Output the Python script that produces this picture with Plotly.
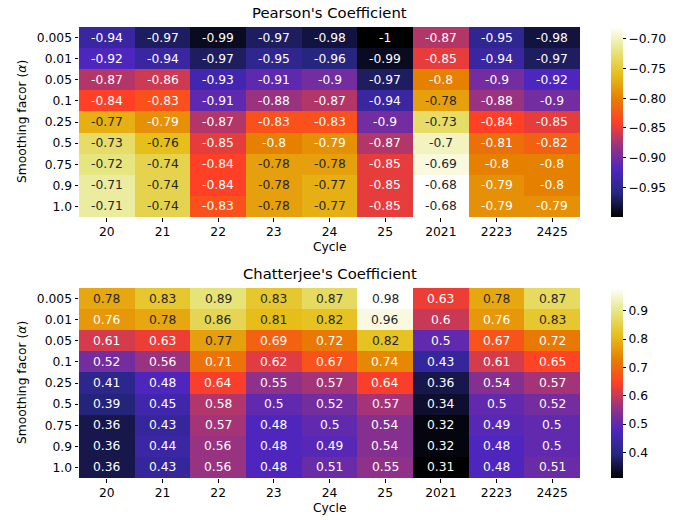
import plotly.graph_objects as go

cycles = ["20", "21", "22", "23", "24", "25", "2021", "2223", "2425"]
alphas = ["0.005", "0.01", "0.05", "0.1", "0.25", "0.5", "0.75", "0.9", "1.0"]

pearson = [
    [-0.94, -0.97, -0.99, -0.97, -0.98, -1.00, -0.87, -0.95, -0.98],
    [-0.92, -0.94, -0.97, -0.95, -0.96, -0.99, -0.85, -0.94, -0.97],
    [-0.87, -0.86, -0.93, -0.91, -0.90, -0.97, -0.80, -0.90, -0.92],
    [-0.84, -0.83, -0.91, -0.88, -0.87, -0.94, -0.78, -0.88, -0.90],
    [-0.77, -0.79, -0.87, -0.83, -0.83, -0.90, -0.73, -0.84, -0.85],
    [-0.73, -0.76, -0.85, -0.80, -0.79, -0.87, -0.70, -0.81, -0.82],
    [-0.72, -0.74, -0.84, -0.78, -0.78, -0.85, -0.69, -0.80, -0.80],
    [-0.71, -0.74, -0.84, -0.78, -0.77, -0.85, -0.68, -0.79, -0.80],
    [-0.71, -0.74, -0.83, -0.78, -0.77, -0.85, -0.68, -0.79, -0.79],
]

chatterjee = [
    [0.78, 0.83, 0.89, 0.83, 0.87, 0.98, 0.63, 0.78, 0.87],
    [0.76, 0.78, 0.86, 0.81, 0.82, 0.96, 0.60, 0.76, 0.83],
    [0.61, 0.63, 0.77, 0.69, 0.72, 0.82, 0.50, 0.67, 0.72],
    [0.52, 0.56, 0.71, 0.62, 0.67, 0.74, 0.43, 0.61, 0.65],
    [0.41, 0.48, 0.64, 0.55, 0.57, 0.64, 0.36, 0.54, 0.57],
    [0.39, 0.45, 0.58, 0.50, 0.52, 0.57, 0.34, 0.50, 0.52],
    [0.36, 0.43, 0.57, 0.48, 0.50, 0.54, 0.32, 0.49, 0.50],
    [0.36, 0.44, 0.56, 0.48, 0.49, 0.54, 0.32, 0.48, 0.50],
    [0.36, 0.43, 0.56, 0.48, 0.51, 0.55, 0.31, 0.48, 0.51],
]

pearson_cbar_ticks = [-0.95, -0.90, -0.85, -0.80, -0.75, -0.70]
chatterjee_cbar_ticks = [0.4, 0.5, 0.6, 0.7, 0.8, 0.9]

# CMRmap anchor colours (RGB in 0..1)
cmr_stops = [
    (0.000, (0.00, 0.00, 0.00)),
    (0.125, (0.15, 0.15, 0.50)),
    (0.250, (0.30, 0.15, 0.75)),
    (0.375, (0.60, 0.20, 0.50)),
    (0.500, (1.00, 0.25, 0.15)),
    (0.625, (0.90, 0.50, 0.00)),
    (0.750, (0.90, 0.75, 0.10)),
    (0.875, (0.90, 0.90, 0.50)),
    (1.000, (1.00, 1.00, 1.00)),
]
colorscale = [
    [p, "rgb(%d,%d,%d)" % tuple(round(c * 255) for c in rgb)] for p, rgb in cmr_stops
]


def cmap(t):
    t = min(max(t, 0.0), 1.0)
    for (p0, c0), (p1, c1) in zip(cmr_stops[:-1], cmr_stops[1:]):
        if p0 <= t <= p1:
            f = (t - p0) / (p1 - p0)
            return tuple(a + (b - a) * f for a, b in zip(c0, c1))
    return cmr_stops[-1][1]


def luminance(rgb):
    lin = [c / 12.92 if c <= 0.03928 else ((c + 0.055) / 1.055) ** 2.4 for c in rgb]
    return 0.2126 * lin[0] + 0.7152 * lin[1] + 0.0722 * lin[2]


FONT = "DejaVu Sans"
TICK = 12.3
TITLE = 14.8

X_DOM = [79 / 685, 580 / 685]
Y_TOP = [1 - 217 / 520, 1 - 27 / 520]
Y_BOT = [1 - 478 / 520, 1 - 288 / 520]
CB_X = 611 / 685

fig = go.Figure()
annotations = []

panels = [
    (pearson, "Pearson's Coefficient", Y_TOP, "x", "y", ".2f", pearson_cbar_ticks),
    (chatterjee, "Chatterjee's Coefficient", Y_BOT, "x2", "y2", ".1f", chatterjee_cbar_ticks),
]

for z, title, ydom, xa, ya, cbfmt, cbticks in panels:
    flat = [v for row in z for v in row]
    zmin, zmax = min(flat), max(flat)
    fig.add_trace(
        go.Heatmap(
            z=z, x=cycles, y=alphas, xaxis=xa, yaxis=ya,
            colorscale=colorscale, zmin=zmin, zmax=zmax, xgap=0, ygap=0,
            colorbar=dict(
                x=CB_X, xanchor="left", y=(ydom[0] + ydom[1]) / 2, yanchor="middle",
                len=ydom[1] - ydom[0], lenmode="fraction", thickness=12,
                outlinewidth=0, xpad=0, ypad=0, ticks="outside", ticklen=3.5,
                tickwidth=0.8, tickcolor="black", tickformat=cbfmt,
                tickmode="array", tickvals=cbticks,
                tickfont=dict(family=FONT, size=TICK, color="black"),
            ),
        )
    )
    # cell labels, placed by category index
    for i, a in enumerate(alphas):
        for j, c in enumerate(cycles):
            v = z[i][j]
            rgb = cmap((v - zmin) / (zmax - zmin))
            col = "rgb(38,38,38)" if luminance(rgb) > 0.408 else "white"
            annotations.append(dict(
                x=j, y=i, xref=xa, yref=ya, text=format(v, ".2g"), showarrow=False,
                font=dict(family=FONT, size=TICK, color=col),
            ))
    xc = (X_DOM[0] + X_DOM[1]) / 2
    yc = (ydom[0] + ydom[1]) / 2
    annotations.append(dict(
        x=xc, y=ydom[1], xref="paper", yref="paper", xanchor="center", yanchor="bottom",
        yshift=4, text=title, showarrow=False,
        font=dict(family=FONT, size=TITLE, color="black"),
    ))
    annotations.append(dict(
        x=xc, y=ydom[0], xref="paper", yref="paper", xanchor="center", yanchor="top",
        yshift=-21, text="Cycle", showarrow=False,
        font=dict(family=FONT, size=TICK, color="black"),
    ))
    annotations.append(dict(
        x=22 / 685, y=yc, xref="paper", yref="paper", xanchor="center", yanchor="middle",
        text="Smoothing facor (<i>α</i>)", textangle=-90, showarrow=False,
        font=dict(family=FONT, size=TICK, color="black"),
    ))

axis_common = dict(
    ticks="outside", ticklen=3.5, tickwidth=0.8, tickcolor="black", showgrid=False,
    zeroline=False, showline=False, tickfont=dict(family=FONT, size=TICK, color="black"),
)

fig.update_layout(
    width=685, height=520, margin=dict(l=0, r=0, t=0, b=0),
    paper_bgcolor="white", plot_bgcolor="white",
    font=dict(family=FONT, size=TICK, color="black"),
    xaxis=dict(domain=X_DOM, anchor="y", type="category", **axis_common),
    yaxis=dict(domain=Y_TOP, anchor="x", type="category", autorange="reversed", **axis_common),
    xaxis2=dict(domain=X_DOM, anchor="y2", type="category", **axis_common),
    yaxis2=dict(domain=Y_BOT, anchor="x2", type="category", autorange="reversed", **axis_common),
    annotations=annotations,
)

fig.write_html("out.html")
